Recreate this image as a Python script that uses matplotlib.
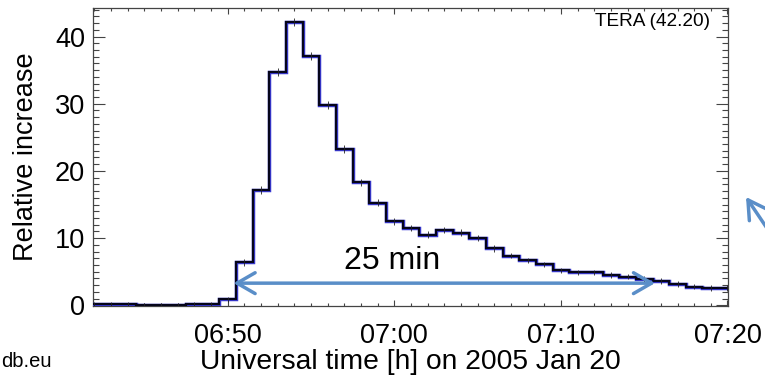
import matplotlib
matplotlib.use("Agg")
import matplotlib.pyplot as plt
from matplotlib.ticker import MultipleLocator, FuncFormatter
import numpy as np

# Data: minute bins (minutes after 06:00 UT) and relative increase (%)
minutes = [42, 43, 44, 45, 46, 47, 48, 49, 50, 51, 52, 53, 54, 55, 56, 57, 58, 59,
           60, 61, 62, 63, 64, 65, 66, 67, 68, 69, 70, 71, 72, 73, 74, 75, 76, 77,
           78, 79, 80]
values = [0.2, 0.2, 0.15, 0.1, 0.1, 0.1, 0.15, 0.25, 0.9, 6.4, 17.2, 34.7, 42.2,
          37.1, 29.8, 23.2, 18.3, 15.3, 12.5, 11.5, 10.5, 11.2, 10.8, 10.0, 8.5,
          7.4, 6.7, 6.1, 5.2, 4.9, 4.9, 4.5, 4.25, 3.9, 3.6, 3.2, 2.8, 2.6, 2.6]
errors = [0.3, 0.3, 0.3, 0.3, 0.3, 0.3, 0.3, 0.3, 0.4, 0.5, 0.6, 0.6, 0.6,
          0.6, 0.6, 0.6, 0.5, 0.5, 0.5, 0.5, 0.5, 0.5, 0.5, 0.5, 0.5,
          0.4, 0.4, 0.4, 0.4, 0.4, 0.4, 0.4, 0.4, 0.4, 0.4, 0.4, 0.4, 0.4, 0.4]
xticks = [50, 60, 70, 80]
yticks = [0, 10, 20, 30, 40]
station_label = "TERA (42.20)"
duration_label = "25 min"
arrow_start, arrow_end, arrow_level = 50.35, 75.65, 3.3

plt.rcParams['font.family'] = ['Liberation Sans', 'DejaVu Sans']

fig = plt.figure(figsize=(7.65, 3.79), dpi=100)
ax = fig.add_axes([0.122, 0.1926, 0.8296, 0.7855])

m = np.array(minutes, dtype=float)
edges = np.concatenate([m - 0.5, [m[-1] + 0.5]])
ax.stairs(values, edges, baseline=None, color='#3a3ad8', linewidth=2.5, zorder=3)
ax.stairs(values, edges, baseline=None, color='#05051a', linewidth=1.6, zorder=4)
ax.errorbar(minutes, values, yerr=errors, fmt='none', ecolor='#222222',
            elinewidth=0.6, zorder=5)

ax.set_xlim(41.93, 80.03)
ax.set_ylim(-0.1, 44.2)

ax.set_xticks(xticks)
ax.xaxis.set_minor_locator(MultipleLocator(1))
ax.set_yticks(yticks)
ax.yaxis.set_minor_locator(MultipleLocator(1))
ax.xaxis.set_major_formatter(FuncFormatter(lambda v, p: f"{int(v)//60 + 6:02d}:{int(v)%60:02d}"))

ax.tick_params(which='both', direction='in', top=True, right=True, colors='#444444',
               labelcolor='black', labelsize=19.5, width=0.8)
ax.tick_params(axis='x', which='major', length=4.5, pad=12)
ax.tick_params(axis='x', which='minor', length=2.2)
ax.tick_params(axis='y', which='major', length=8.6, pad=6)
ax.tick_params(axis='y', which='minor', length=4.3)
for s in ax.spines.values():
    s.set_color('#444444')
    s.set_linewidth(0.9)

ax.set_ylabel("Relative increase", fontsize=19.5, labelpad=11)
ax.set_xlabel("Universal time [h] on 2005 Jan 20", fontsize=20.3, labelpad=0)

ax.text(0.972, 0.985, station_label, transform=ax.transAxes, ha='right', va='top',
        fontsize=13.7)

ax.annotate('', xy=(arrow_start, arrow_level), xytext=(arrow_end, arrow_level),
            arrowprops=dict(arrowstyle='<->,head_length=1.3,head_width=0.75',
                            color='#5a8ec8', lw=2.5, shrinkA=0, shrinkB=0), zorder=6)
ax.text(59.84, 5.4, duration_label, ha='center', va='baseline', fontsize=23)

fig.text(0.002, 0.047, "db.eu", ha='left', va='center', fontsize=14.5)

# partial arrow at right edge
fig.patches.append(matplotlib.patches.FancyArrowPatch(
    (785 / 765, 1 - 255 / 379), (746 / 765, 1 - 197 / 379), transform=fig.transFigure,
    arrowstyle='->,head_length=1.3,head_width=0.75', mutation_scale=10,
    color='#5a8ec8', lw=2.5, shrinkA=0, shrinkB=0))

fig.savefig("out.png", dpi=100)
